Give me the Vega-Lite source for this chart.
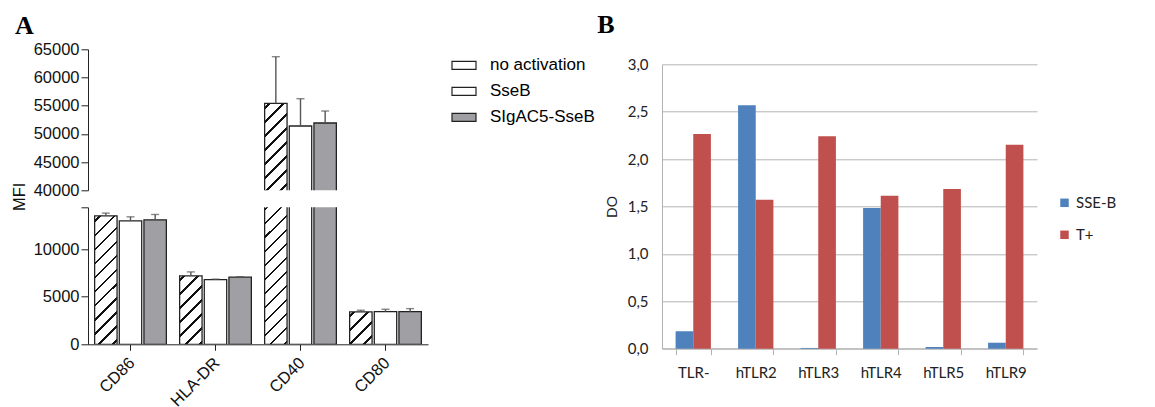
{
"$schema": "https://vega.github.io/schema/vega-lite/v6.json",
"padding": {"left": 11, "top": 12.3, "right": 5, "bottom": 0},
"config": {"view": {"stroke": null}, "font": "Liberation Sans"},
"resolve": {"scale": {"fill": "independent", "xOffset": "independent"}, "legend": {"fill": "independent"}},
"datasets": {
"a": [
{"marker":"CD86","group":"no activation","value":13505,"hi":13790},
{"marker":"CD86","group":"SseB","value":12980,"hi":13400},
{"marker":"CD86","group":"SIgAC5-SseB","value":13084,"hi":13645},
{"marker":"HLA-DR","group":"no activation","value":7190,"hi":7610},
{"marker":"HLA-DR","group":"SseB","value":6800,"hi":6850},
{"marker":"HLA-DR","group":"SIgAC5-SseB","value":7050,"hi":7100},
{"marker":"CD40","group":"no activation","value":55426,"hi":63690},
{"marker":"CD40","group":"SseB","value":51400,"hi":56240},
{"marker":"CD40","group":"SIgAC5-SseB","value":51930,"hi":54060},
{"marker":"CD80","group":"no activation","value":3400,"hi":3580},
{"marker":"CD80","group":"SseB","value":3430,"hi":3680},
{"marker":"CD80","group":"SIgAC5-SseB","value":3430,"hi":3750}
],
"b": [
{"receptor":"TLR-","series":"SSE-B","do":0.184},
{"receptor":"TLR-","series":"T+","do":2.265},
{"receptor":"hTLR2","series":"SSE-B","do":2.567},
{"receptor":"hTLR2","series":"T+","do":1.572},
{"receptor":"hTLR3","series":"SSE-B","do":0.008},
{"receptor":"hTLR3","series":"T+","do":2.24},
{"receptor":"hTLR4","series":"SSE-B","do":1.484},
{"receptor":"hTLR4","series":"T+","do":1.614},
{"receptor":"hTLR5","series":"SSE-B","do":0.018},
{"receptor":"hTLR5","series":"T+","do":1.685},
{"receptor":"hTLR9","series":"SSE-B","do":0.063},
{"receptor":"hTLR9","series":"T+","do":2.152}
]
},
"hconcat": [
{
"title": {"text": "A", "anchor": "start", "font": "Liberation Serif", "fontSize": 26, "fontWeight": "bold", "baseline": "alphabetic", "offset": -19, "dx": 4, "color": "#000"},
"spacing": 17,
"bounds": "flush",
"resolve": {"scale": {"fill": "independent"}, "legend": {"fill": "independent"}},
"vconcat": [
{
"width": 340, "height": 141,
"data": {"name": "a"},
"transform": [{"filter": "datum.marker === 'CD40'"}],
"encoding": {
"x": {"field": "marker", "type": "nominal", "scale": {"domain": ["CD86","HLA-DR","CD40","CD80"], "paddingInner": 0.156, "paddingOuter": 0.078}, "axis": null},
"xOffset": {"field": "group", "type": "nominal", "scale": {"domain": ["no activation","SseB","SIgAC5-SseB"], "paddingInner": 0.09, "paddingOuter": 0}},
"y": {"field": "value", "type": "quantitative", "scale": {"domain": [40000, 65000], "nice": false, "zero": false}, "axis": {"values": [40000,45000,50000,55000,60000,65000], "format": "d", "labelOverlap": false, "title": null, "grid": false, "domainColor": "#222", "tickColor": "#222", "tickSize": 7, "labelFontSize": 16.5, "labelColor": "#111", "labelPadding": 2}}
},
"layer": [
{
"transform": [{"filter": "datum.group === 'no activation'"}],
"mark": {"type": "bar", "clip": true, "strokeWidth": 0},
"encoding": {
"y2": {"datum": 39000},
"fill": {"value": {"gradient": "linear", "x1": 0, "y1": 0, "x2": 0.2837, "y2": 1.1732, "stops": [
{"offset":0,"color":"#fff"},
{"offset":0.03,"color":"#fff"},{"offset":0.03,"color":"#111"},{"offset":0.0543,"color":"#111"},{"offset":0.0543,"color":"#fff"},
{"offset":0.1517,"color":"#fff"},{"offset":0.1517,"color":"#111"},{"offset":0.176,"color":"#111"},{"offset":0.176,"color":"#fff"},
{"offset":0.2734,"color":"#fff"},{"offset":0.2734,"color":"#111"},{"offset":0.2977,"color":"#111"},{"offset":0.2977,"color":"#fff"},
{"offset":0.3951,"color":"#fff"},{"offset":0.3951,"color":"#111"},{"offset":0.4194,"color":"#111"},{"offset":0.4194,"color":"#fff"},
{"offset":0.5168,"color":"#fff"},{"offset":0.5168,"color":"#111"},{"offset":0.5411,"color":"#111"},{"offset":0.5411,"color":"#fff"},
{"offset":0.6385,"color":"#fff"},{"offset":0.6385,"color":"#111"},{"offset":0.6628,"color":"#111"},{"offset":0.6628,"color":"#fff"},
{"offset":0.7602,"color":"#fff"},{"offset":0.7602,"color":"#111"},{"offset":0.7845,"color":"#111"},{"offset":0.7845,"color":"#fff"},
{"offset":0.8819,"color":"#fff"},{"offset":0.8819,"color":"#111"},{"offset":0.9062,"color":"#111"},{"offset":0.9062,"color":"#fff"},
{"offset":1,"color":"#fff"}]}}
}
},
{
"mark": {"type": "bar", "clip": true, "stroke": "#222", "strokeWidth": 1.3},
"encoding": {
"y2": {"datum": 39000},
"fill": {"field": "group", "type": "nominal", "scale": {"domain": ["no activation","SseB","SIgAC5-SseB"], "range": ["transparent","#ffffff","#a0a0a4"]},
"legend": {"orient": "none", "legendX": 363, "legendY": 3, "title": null, "symbolType": "M-1,-0.3333L1,-0.3333L1,0.3333L-1,0.3333Z", "symbolSize": 576, "symbolStrokeColor": "#222", "symbolStrokeWidth": 1.2, "labelFont": "Liberation Sans", "labelFontSize": 17, "labelColor": "#000", "labelOffset": 13, "rowPadding": 5}}
}
},
{
"mark": {"type": "rule", "color": "#555", "strokeWidth": 1.4},
"encoding": {"y2": {"field": "hi"}}
},
{
"mark": {"type": "tick", "orient": "horizontal", "size": 8, "thickness": 1.4, "color": "#555"},
"encoding": {"y": {"field": "hi", "type": "quantitative", "axis": {"values": [40000,45000,50000,55000,60000,65000], "format": "d", "labelOverlap": false, "title": null, "grid": false, "domainColor": "#222", "tickColor": "#222", "tickSize": 7, "labelFontSize": 16.5, "labelColor": "#111", "labelPadding": 2}}}
}
]
},
{
"width": 340, "height": 137,
"data": {"name": "a"},
"encoding": {
"x": {"field": "marker", "type": "nominal", "scale": {"domain": ["CD86","HLA-DR","CD40","CD80"], "paddingInner": 0.156, "paddingOuter": 0.078}, "axis": {"title": null, "labelAngle": -45, "labelFontSize": 16.5, "labelColor": "#111", "domainColor": "#222", "tickColor": "#222", "tickSize": 6, "labelPadding": 4, "labelOffset": -4}},
"xOffset": {"field": "group", "type": "nominal", "scale": {"domain": ["no activation","SseB","SIgAC5-SseB"], "paddingInner": 0.09, "paddingOuter": 0}},
"y": {"field": "value", "type": "quantitative", "scale": {"domain": [0, 14400], "nice": false}, "axis": {"values": [0,5000,10000,14400], "format": "d", "labelOverlap": false, "labelExpr": "datum.value > 14000 ? '' : datum.label", "title": "MFI", "titleFontSize": 16.5, "titleFontWeight": "normal", "titleColor": "#111", "titleX": -69, "titleY": -11, "titleAngle": -90, "titleAlign": "center", "titleBaseline": "middle", "grid": false, "domainColor": "#222", "tickColor": "#222", "tickSize": 7, "labelFontSize": 16.5, "labelColor": "#111", "labelPadding": 2}}
},
"layer": [
{
"transform": [{"filter": "datum.group === 'no activation'"}],
"mark": {"type": "bar", "clip": true, "strokeWidth": 0},
"encoding": {
"fill": {"condition": [
{"test": "datum.marker === 'CD86'", "value": {"gradient": "linear", "x1": 0, "y1": 0, "x2": 0.1987, "y2": 1.1397, "stops": [
{"offset":0,"color":"#fff"},
{"offset":0.03,"color":"#fff"},{"offset":0.03,"color":"#111"},{"offset":0.0486,"color":"#111"},{"offset":0.0486,"color":"#fff"},
{"offset":0.123,"color":"#fff"},{"offset":0.123,"color":"#111"},{"offset":0.1416,"color":"#111"},{"offset":0.1416,"color":"#fff"},
{"offset":0.216,"color":"#fff"},{"offset":0.216,"color":"#111"},{"offset":0.2346,"color":"#111"},{"offset":0.2346,"color":"#fff"},
{"offset":0.309,"color":"#fff"},{"offset":0.309,"color":"#111"},{"offset":0.3276,"color":"#111"},{"offset":0.3276,"color":"#fff"},
{"offset":0.402,"color":"#fff"},{"offset":0.402,"color":"#111"},{"offset":0.4206,"color":"#111"},{"offset":0.4206,"color":"#fff"},
{"offset":0.495,"color":"#fff"},{"offset":0.495,"color":"#111"},{"offset":0.5136,"color":"#111"},{"offset":0.5136,"color":"#fff"},
{"offset":0.588,"color":"#fff"},{"offset":0.588,"color":"#111"},{"offset":0.6066,"color":"#111"},{"offset":0.6066,"color":"#fff"},
{"offset":0.681,"color":"#fff"},{"offset":0.681,"color":"#111"},{"offset":0.6996,"color":"#111"},{"offset":0.6996,"color":"#fff"},
{"offset":0.774,"color":"#fff"},{"offset":0.774,"color":"#111"},{"offset":0.7926,"color":"#111"},{"offset":0.7926,"color":"#fff"},
{"offset":0.867,"color":"#fff"},{"offset":0.867,"color":"#111"},{"offset":0.8856,"color":"#111"},{"offset":0.8856,"color":"#fff"},
{"offset":0.96,"color":"#fff"},{"offset":0.96,"color":"#111"},{"offset":0.9786,"color":"#111"},{"offset":0.9786,"color":"#fff"},
{"offset":1,"color":"#fff"}]}},
{"test": "datum.marker === 'HLA-DR'", "value": {"gradient": "linear", "x1": 0, "y1": 0, "x2": 0.3926, "y2": 1.1988, "stops": [
{"offset":0,"color":"#fff"},
{"offset":0.03,"color":"#fff"},{"offset":0.03,"color":"#111"},{"offset":0.0609,"color":"#111"},{"offset":0.0609,"color":"#fff"},
{"offset":0.1845,"color":"#fff"},{"offset":0.1845,"color":"#111"},{"offset":0.2154,"color":"#111"},{"offset":0.2154,"color":"#fff"},
{"offset":0.339,"color":"#fff"},{"offset":0.339,"color":"#111"},{"offset":0.3699,"color":"#111"},{"offset":0.3699,"color":"#fff"},
{"offset":0.4935,"color":"#fff"},{"offset":0.4935,"color":"#111"},{"offset":0.5244,"color":"#111"},{"offset":0.5244,"color":"#fff"},
{"offset":0.648,"color":"#fff"},{"offset":0.648,"color":"#111"},{"offset":0.6789,"color":"#111"},{"offset":0.6789,"color":"#fff"},
{"offset":0.8025,"color":"#fff"},{"offset":0.8025,"color":"#111"},{"offset":0.8334,"color":"#111"},{"offset":0.8334,"color":"#fff"},
{"offset":0.957,"color":"#fff"},{"offset":0.957,"color":"#111"},{"offset":0.9879,"color":"#111"},{"offset":0.9879,"color":"#fff"},
{"offset":1,"color":"#fff"}]}},
{"test": "datum.marker === 'CD40'", "value": {"gradient": "linear", "x1": 0, "y1": 0, "x2": 0.0442, "y2": 1.0406, "stops": [
{"offset":0,"color":"#fff"},
{"offset":0.712,"color":"#fff"},{"offset":0.712,"color":"#111"},{"offset":0.7171,"color":"#111"},{"offset":0.7171,"color":"#fff"},
{"offset":0.7375,"color":"#fff"},{"offset":0.7375,"color":"#111"},{"offset":0.7426,"color":"#111"},{"offset":0.7426,"color":"#fff"},
{"offset":0.7629,"color":"#fff"},{"offset":0.7629,"color":"#111"},{"offset":0.768,"color":"#111"},{"offset":0.768,"color":"#fff"},
{"offset":0.7884,"color":"#fff"},{"offset":0.7884,"color":"#111"},{"offset":0.7935,"color":"#111"},{"offset":0.7935,"color":"#fff"},
{"offset":0.8139,"color":"#fff"},{"offset":0.8139,"color":"#111"},{"offset":0.819,"color":"#111"},{"offset":0.819,"color":"#fff"},
{"offset":0.8394,"color":"#fff"},{"offset":0.8394,"color":"#111"},{"offset":0.8445,"color":"#111"},{"offset":0.8445,"color":"#fff"},
{"offset":0.8648,"color":"#fff"},{"offset":0.8648,"color":"#111"},{"offset":0.8699,"color":"#111"},{"offset":0.8699,"color":"#fff"},
{"offset":0.8903,"color":"#fff"},{"offset":0.8903,"color":"#111"},{"offset":0.8954,"color":"#111"},{"offset":0.8954,"color":"#fff"},
{"offset":0.9158,"color":"#fff"},{"offset":0.9158,"color":"#111"},{"offset":0.9209,"color":"#111"},{"offset":0.9209,"color":"#fff"},
{"offset":0.9413,"color":"#fff"},{"offset":0.9413,"color":"#111"},{"offset":0.9464,"color":"#111"},{"offset":0.9464,"color":"#fff"},
{"offset":0.9667,"color":"#fff"},{"offset":0.9667,"color":"#111"},{"offset":0.9718,"color":"#111"},{"offset":0.9718,"color":"#fff"},
{"offset":0.9922,"color":"#fff"},{"offset":0.9922,"color":"#111"},{"offset":0.9973,"color":"#111"},{"offset":0.9973,"color":"#fff"},
{"offset":1,"color":"#fff"}]}}
],
"value": {"gradient": "linear", "x1": 0, "y1": 0, "x2": 0.7921, "y2": 1.1439, "stops": [
{"offset":0,"color":"#fff"},
{"offset":0.06,"color":"#fff"},{"offset":0.06,"color":"#111"},{"offset":0.1112,"color":"#111"},{"offset":0.1112,"color":"#fff"},
{"offset":0.3162,"color":"#fff"},{"offset":0.3162,"color":"#111"},{"offset":0.3674,"color":"#111"},{"offset":0.3674,"color":"#fff"},
{"offset":0.5724,"color":"#fff"},{"offset":0.5724,"color":"#111"},{"offset":0.6236,"color":"#111"},{"offset":0.6236,"color":"#fff"},
{"offset":0.8286,"color":"#fff"},{"offset":0.8286,"color":"#111"},{"offset":0.8798,"color":"#111"},{"offset":0.8798,"color":"#fff"},
{"offset":1,"color":"#fff"}]}}
}
},
{
"mark": {"type": "bar", "clip": true, "stroke": "#222", "strokeWidth": 1.3},
"encoding": {
"fill": {"field": "group", "type": "nominal", "scale": {"domain": ["no activation","SseB","SIgAC5-SseB"], "range": ["transparent","#ffffff","#a0a0a4"]}, "legend": null}
}
},
{
"transform": [{"filter": "datum.hi < 14400"}],
"mark": {"type": "rule", "color": "#555", "strokeWidth": 1.4},
"encoding": {"y2": {"field": "hi"}}
},
{
"transform": [{"filter": "datum.hi < 14400"}],
"mark": {"type": "tick", "orient": "horizontal", "size": 8, "thickness": 1.4, "color": "#555"},
"encoding": {"y": {"field": "hi", "type": "quantitative", "axis": {"values": [0,5000,10000,14400], "format": "d", "labelOverlap": false, "labelExpr": "datum.value > 14000 ? '' : datum.label", "title": "MFI", "titleFontSize": 16.5, "titleFontWeight": "normal", "titleColor": "#111", "titleX": -69, "titleY": -11, "titleAngle": -90, "titleAlign": "center", "titleBaseline": "middle", "grid": false, "domainColor": "#222", "tickColor": "#222", "tickSize": 7, "labelFontSize": 16.5, "labelColor": "#111", "labelPadding": 2}}}
}
]
}
]
},
{
"title": {"text": "B", "anchor": "start", "font": "Liberation Serif", "fontSize": 26, "fontWeight": "bold", "baseline": "alphabetic", "offset": -10, "dx": -8, "color": "#000"},
"width": 375, "height": 299.4,
"data": {"name": "b"},
"mark": {"type": "bar"},
"encoding": {
"x": {"field": "receptor", "type": "nominal", "scale": {"domain": ["TLR-","hTLR2","hTLR3","hTLR4","hTLR5","hTLR9"], "paddingInner": 0.435, "paddingOuter": 0.2175}, "axis": {"title": null, "labelAngle": 0, "tickBand": "extent", "domainColor": "#b3b3b3", "tickColor": "#b3b3b3", "tickSize": 6, "labelFont": "Lato", "labelFontSize": 15, "labelColor": "#222", "labelPadding": 11}},
"xOffset": {"field": "series", "type": "nominal", "scale": {"domain": ["SSE-B","T+"], "paddingInner": 0, "paddingOuter": 0}},
"y": {"field": "do", "type": "quantitative", "scale": {"domain": [0, 3], "range": [299.4, 15], "nice": false}, "axis": {"values": [0,0.5,1,1.5,2,2.5,3], "labelExpr": "replace(format(datum.value, '.1f'), '.', ',')", "grid": true, "gridColor": "#b3b3b3", "ticks": false, "domainColor": "#b3b3b3", "labelPadding": 14, "labelFont": "Lato", "labelFontSize": 15, "labelColor": "#222", "title": "DO", "titleFont": "Lato", "titleFontSize": 14, "titleFontWeight": "normal", "titleColor": "#222", "titlePadding": 8}},
"fill": {"field": "series", "type": "nominal", "scale": {"domain": ["SSE-B","T+"], "range": ["#4f81bd","#c0504d"]}, "legend": {"orient": "none", "legendX": 395, "legendY": 146, "title": null, "symbolType": "square", "symbolSize": 72, "symbolStrokeWidth": 0, "labelFont": "Lato", "labelFontSize": 15, "labelColor": "#222", "labelOffset": 4, "rowPadding": 16}}
}
}
],
"spacing": 2
}
